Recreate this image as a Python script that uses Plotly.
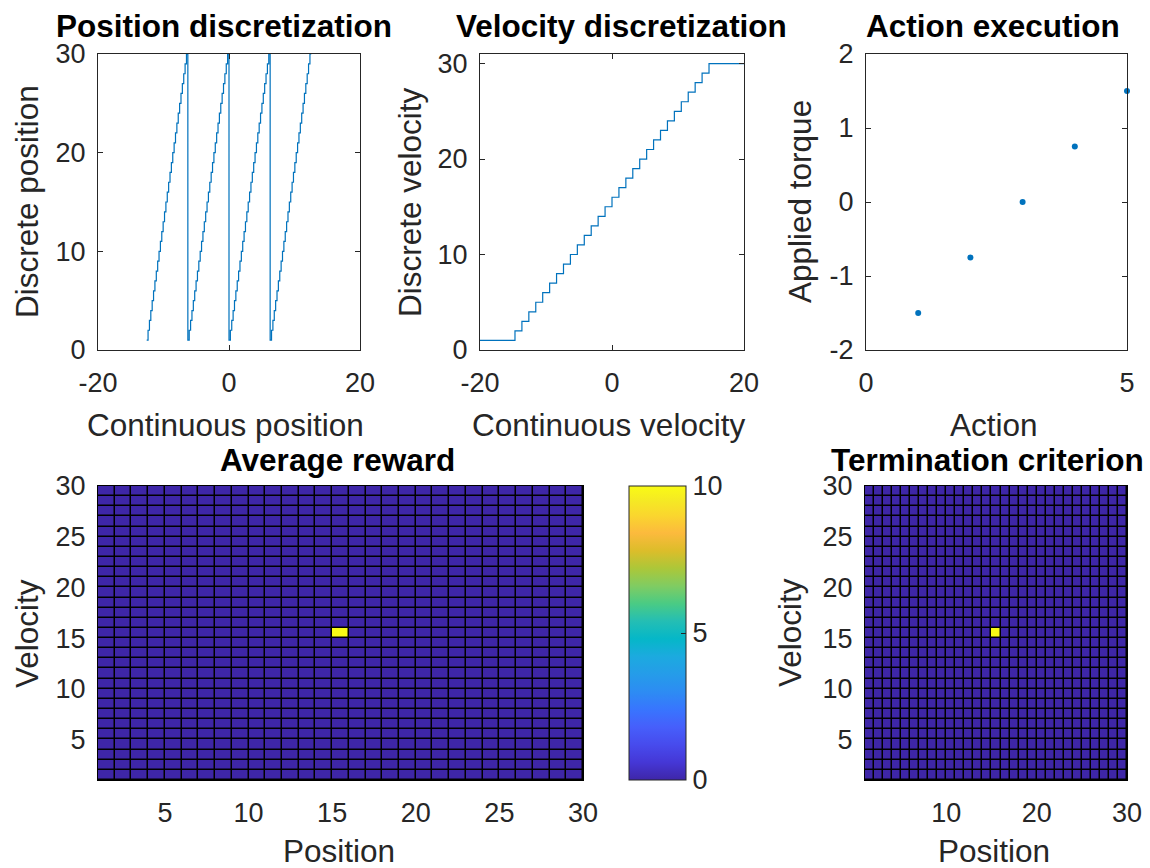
import plotly.graph_objects as go

# ---------------- data ----------------
# Position discretization: wrap points (multiples of 2*pi) and discrete levels
position_wraps = [-12.566, -6.283, 0.0, 6.283, 12.566]
discrete_levels = [1, 2, 3, 4, 5, 6, 7, 8, 9, 10, 11, 12, 13, 14, 15,
                   16, 17, 18, 19, 20, 21, 22, 23, 24, 25, 26, 27, 28, 29, 30]

# Velocity discretization: continuous range and riser positions of the staircase
velocity_limits = [-20.0, 20.0]
velocity_risers = [-14.7, -13.65, -12.6, -11.55, -10.5, -9.45, -8.4, -7.35, -6.3,
                   -5.25, -4.2, -3.15, -2.1, -1.05, 0.0, 1.05, 2.1, 3.15, 4.2, 5.25,
                   6.3, 7.35, 8.4, 9.45, 10.5, 11.55, 12.6, 13.65, 14.7]

# Action execution
actions = [1, 2, 3, 4, 5]
torques = [-1.5, -0.75, 0.0, 0.75, 1.5]

# Reward / termination grids (pcolor: 30 grid edges -> 29 x 29 cells)
grid_edges = [1, 2, 3, 4, 5, 6, 7, 8, 9, 10, 11, 12, 13, 14, 15,
              16, 17, 18, 19, 20, 21, 22, 23, 24, 25, 26, 27, 28, 29, 30]
goal_position = 15
goal_velocity = 15
goal_reward = 10
goal_termination = 1

# ---------------- derived marks ----------------
pos_x, pos_y = [], []
for i in range(len(position_wraps) - 1):
    start, end = position_wraps[i], position_wraps[i + 1]
    w = (end - start) / len(discrete_levels)
    for k, lev in enumerate(discrete_levels):
        pos_x.append(start + k * w)
        pos_y.append(lev)
    pos_x.append(end)
    pos_y.append(discrete_levels[-1])

vel_x = [velocity_limits[0]] + velocity_risers + [velocity_limits[1]]
vel_y = [discrete_levels[0]] + discrete_levels[1:] + [discrete_levels[-1]]

ncell = len(grid_edges) - 1
reward_grid = [[0] * ncell for _ in range(ncell)]
reward_grid[goal_velocity - 1][goal_position - 1] = goal_reward
term_grid = [[0] * ncell for _ in range(ncell)]
term_grid[goal_velocity - 1][goal_position - 1] = goal_termination

parula = [
    [0.00, "rgb(62,38,168)"], [0.06, "rgb(69,55,214)"], [0.12, "rgb(71,75,237)"],
    [0.18, "rgb(70,95,251)"], [0.24, "rgb(56,117,254)"], [0.30, "rgb(45,140,243)"],
    [0.36, "rgb(37,156,233)"], [0.42, "rgb(28,170,223)"], [0.48, "rgb(5,183,200)"],
    [0.54, "rgb(36,190,180)"], [0.60, "rgb(74,203,132)"], [0.66, "rgb(128,204,98)"],
    [0.72, "rgb(172,199,57)"], [0.78, "rgb(220,189,42)"], [0.84, "rgb(252,186,61)"],
    [0.90, "rgb(250,214,46)"], [0.95, "rgb(245,233,36)"], [1.00, "rgb(249,251,21)"],
]

# the page's body margin is removed below, so the figure fills the window at (0, 0)
OFF = 0
W, H = 1150, 868
TXT = "#262626"
FONT = "Liberation Sans, Arial, Helvetica, sans-serif"
LINE = "#0072BD"
TICK = 27
LAB = 31.5


def px(x):
    return (x - OFF) / W


def py(y):
    return 1 - (y - OFF) / H


def xd(a, b):
    return [px(a), px(b)]


def yd(top, bottom):
    return [py(bottom), py(top)]


def lab(vals):
    return [str(v) for v in vals]


fig = go.Figure()

fig.add_trace(go.Scatter(x=pos_x, y=pos_y, mode="lines", line=dict(color=LINE, width=1.2, shape="hv"),
                         xaxis="x", yaxis="y", showlegend=False))
fig.add_trace(go.Scatter(x=vel_x, y=vel_y, mode="lines", line=dict(color=LINE, width=1.2, shape="hv"),
                         xaxis="x2", yaxis="y2", showlegend=False))
fig.add_trace(go.Scatter(x=actions, y=torques, mode="markers", marker=dict(color=LINE, size=6),
                         xaxis="x3", yaxis="y3", showlegend=False, cliponaxis=False))
fig.add_trace(go.Heatmap(x=grid_edges, y=grid_edges, z=reward_grid, colorscale=parula, zmin=0, zmax=10,
                         xgap=1.5, ygap=1.5, xaxis="x4", yaxis="y4",
                         colorbar=dict(x=px(629), xanchor="left", y=py(633), yanchor="middle",
                                       len=294 / H, lenmode="fraction", thickness=57, thicknessmode="pixels",
                                       xpad=0, ypad=0, outlinecolor=TXT, outlinewidth=1,
                                       tickvals=[0, 5, 10], ticks="inside", ticklen=5, tickcolor=TXT,
                                       tickfont=dict(family=FONT, size=TICK, color=TXT))))
fig.add_trace(go.Heatmap(x=grid_edges, y=grid_edges, z=term_grid, colorscale=parula, zmin=0, zmax=1,
                         xgap=1.5, ygap=1.5, xaxis="x5", yaxis="y5", showscale=False))

tickfont = dict(family=FONT, size=TICK, color=TXT)


def line_axis(domain, rng, tickvals, standoff):
    return dict(domain=domain, range=rng, tickvals=tickvals, ticktext=lab(tickvals), ticks="inside",
                ticklen=5, tickcolor=TXT, showline=True, linecolor=TXT, linewidth=1, mirror="ticks",
                showgrid=False, zeroline=False, tickfont=tickfont, automargin=False,
                ticklabelstandoff=standoff, ticklabeloverflow="allow", fixedrange=True)


def heat_axis(domain, rng, tickvals, standoff):
    return dict(domain=domain, range=rng, tickvals=tickvals, ticktext=lab(tickvals), ticks="",
                showline=True, linecolor="#000000", linewidth=1, mirror=True, showgrid=False,
                zeroline=False, tickfont=tickfont, automargin=False, ticklabelstandoff=standoff,
                ticklabeloverflow="allow", fixedrange=True)


XS, YS = 9, 6
fig.update_layout(
    width=W, height=H, margin=dict(l=0, r=0, t=0, b=0),
    paper_bgcolor="white", plot_bgcolor="white",
    xaxis=line_axis(xd(98, 360), [-20, 20], [-20, 0, 20], XS),
    yaxis=dict(line_axis(yd(54, 350), [0, 30], [0, 10, 20, 30], YS), anchor="x"),
    xaxis2=dict(line_axis(xd(480, 744), [-20, 20], [-20, 0, 20], XS), anchor="y2"),
    yaxis2=dict(line_axis(yd(54, 350), [0, 31], [0, 10, 20, 30], YS), anchor="x2"),
    xaxis3=dict(line_axis(xd(866, 1127), [0, 5], [0, 5], XS), anchor="y3"),
    yaxis3=dict(line_axis(yd(54, 350), [-2, 2], [-2, -1, 0, 1, 2], YS), anchor="x3"),
    xaxis4=dict(heat_axis(xd(98, 583), [1, 30], [5, 10, 15, 20, 25, 30], XS), anchor="y4"),
    yaxis4=dict(heat_axis(yd(486, 780), [1, 30], [5, 10, 15, 20, 25, 30], YS), anchor="x4"),
    xaxis5=dict(heat_axis(xd(865, 1127), [1, 30], [10, 20, 30], XS), anchor="y5"),
    yaxis5=dict(heat_axis(yd(486, 780), [1, 30], [5, 10, 15, 20, 25, 30], YS), anchor="x5"),
)

# black backing behind heatmaps so the cell gaps look like cell edges
for ax in ["4", "5"]:
    fig.add_shape(type="rect", xref=f"x{ax} domain", yref=f"y{ax} domain", x0=0, x1=1, y0=0, y1=1,
                  fillcolor="black", line=dict(width=0), layer="below")

titles = [
    ("Position discretization", 224, 26),
    ("Velocity discretization", 621, 26),
    ("Action execution", 993, 26),
    ("Average reward", 337, 460),
    ("Termination criterion", 988, 460),
]
for t, cx, cy in titles:
    fig.add_annotation(text=f"<b>{t}</b>", x=px(cx), y=py(cy), xref="paper", yref="paper",
                       xanchor="center", yanchor="middle", showarrow=False,
                       font=dict(family=FONT, size=LAB, color="#000000"))

xlabels = [
    ("Continuous position", 225, 425),
    ("Continuous velocity", 608, 425),
    ("Action", 994, 425),
    ("Position", 339, 851),
    ("Position", 994, 851),
]
for t, cx, cy in xlabels:
    fig.add_annotation(text=t, x=px(cx), y=py(cy), xref="paper", yref="paper",
                       xanchor="center", yanchor="middle", showarrow=False,
                       font=dict(family=FONT, size=LAB, color=TXT))

ylabels = [
    ("Discrete position", 27, 202),
    ("Discrete velocity", 410, 202),
    ("Applied torque", 800, 202),
    ("Velocity", 27, 633),
    ("Velocity", 790, 633),
]
for t, cx, cy in ylabels:
    fig.add_annotation(text=t, x=px(cx), y=py(cy), xref="paper", yref="paper",
                       xanchor="center", yanchor="middle", showarrow=False, textangle=-90,
                       font=dict(family=FONT, size=LAB, color=TXT))

fig.write_html(
    "out.html",
    config={"displayModeBar": False},
    post_script="document.body.style.margin='0';document.body.style.overflow='hidden';",
)
